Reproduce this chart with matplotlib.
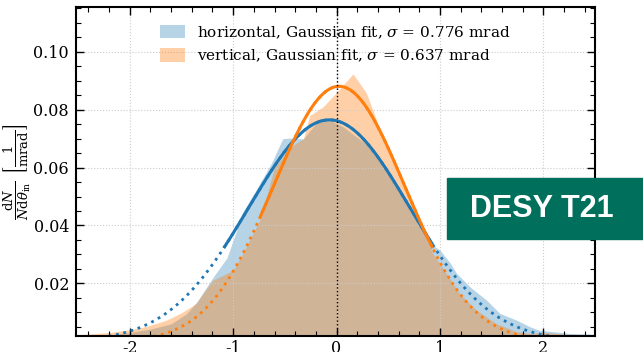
import numpy as np
import matplotlib
matplotlib.use("Agg")
import matplotlib.pyplot as plt
from matplotlib.patches import Rectangle
from matplotlib.ticker import MultipleLocator

plt.rcParams['font.family'] = ['DejaVu Serif']
plt.rcParams['mathtext.fontset'] = 'dejavuserif'
plt.rcParams['axes.unicode_minus'] = False

# horizontal distribution (blue)
x_h = [-2.52, -2.2, -2.0, -1.8, -1.6, -1.45, -1.35, -1.19, -1.06, -0.9, -0.75, -0.63,
       -0.52, -0.45, -0.32, -0.16, -0.035, 0.06, 0.19, 0.32, 0.45, 0.6, 0.75, 0.93,
       1.0, 1.1, 1.16, 1.29, 1.45, 1.58, 1.74, 1.87, 1.96, 2.09, 2.25, 2.5]
y_h = [0.0018, 0.0022, 0.003, 0.0042, 0.006, 0.0095, 0.0136, 0.0223, 0.0288, 0.045,
       0.054, 0.0615, 0.0700, 0.0702, 0.0699, 0.077, 0.0759, 0.0742, 0.0707, 0.0673,
       0.061, 0.052, 0.043, 0.0332, 0.0315, 0.027, 0.0235, 0.0188, 0.0142, 0.0096,
       0.0073, 0.005, 0.0038, 0.0033, 0.0027, 0.0024]

# vertical distribution (orange)
x_v = [-2.52, -2.39, -2.2, -2.03, -1.85, -1.65, -1.5, -1.36, -1.2, -1.0, -0.91, -0.74,
       -0.6, -0.45, -0.32, -0.26, -0.13, 0.0, 0.16, 0.29, 0.4, 0.55, 0.7, 0.8, 0.87,
       0.93, 1.06, 1.19, 1.35, 1.54, 1.74, 1.87, 2.03, 2.2, 2.5]
y_v = [0.0022, 0.0025, 0.003, 0.0038, 0.005, 0.0072, 0.0098, 0.013, 0.021, 0.0245,
       0.030, 0.042, 0.060, 0.067, 0.070, 0.078, 0.081, 0.086, 0.0924, 0.0857, 0.075,
       0.063, 0.050, 0.042, 0.035, 0.0304, 0.0235, 0.0165, 0.0108, 0.0062, 0.0033,
       0.0027, 0.003, 0.0024, 0.0022]

# Gaussian fit parameters: amplitude, mean, sigma, fit range
fit_h = dict(amp=0.0765, mu=-0.07, sigma=0.776, lo=-1.09, hi=0.93)
fit_v = dict(amp=0.0881, mu=0.025, sigma=0.637, lo=-0.74, hi=0.93)

labels = ["horizontal, Gaussian fit, $\\sigma$ = 0.776 mrad",
          "vertical, Gaussian fit, $\\sigma$ = 0.637 mrad"]

blue = '#1f77b4'
orange = '#ff7f0e'

fig = plt.figure(figsize=(6.43, 3.52), dpi=100)
ax = fig.add_axes([76/643, (352-335.7)/352, 519/643, (335.7-7.3)/352])

ax.fill_between(x_h, y_h, 0, color=blue, alpha=0.32, lw=0, label=labels[0])
ax.fill_between(x_v, y_v, 0, color=orange, alpha=0.36, lw=0, label=labels[1])

def gauss(x, p):
    return p['amp'] * np.exp(-0.5 * ((x - p['mu']) / p['sigma']) ** 2)

for p, c in [(fit_h, blue), (fit_v, orange)]:
    xf = np.linspace(-3, 3, 600)
    ax.plot(xf, gauss(xf, p), color=c, lw=2, ls=(0, (1, 1.7)))
    xs = np.linspace(p['lo'], p['hi'], 300)
    ax.plot(xs, gauss(xs, p), color=c, lw=2.2, solid_capstyle='butt')

ax.axvline(0, color='black', lw=1, ls=':')

ax.set_xlim(-2.52, 2.5)
ax.set_ylim(0.0019, 0.1154)
ax.xaxis.set_major_locator(MultipleLocator(1))
ax.xaxis.set_minor_locator(MultipleLocator(0.2))
ax.yaxis.set_minor_locator(MultipleLocator(0.005))
ax.set_yticks([0.02, 0.04, 0.06, 0.08, 0.10])
ax.set_yticklabels(['0.02', '0.04', '0.06', '0.08', '0.10'])
ax.tick_params(which='both', direction='in', top=True, right=True, labelsize=11.5)
ax.tick_params(which='major', length=6, width=1)
ax.tick_params(which='minor', length=3.5, width=0.8)
ax.tick_params(axis='x', pad=3)
ax.tick_params(axis='y', pad=5)
ax.grid(True, which='major', ls=':', color='#cccccc', lw=0.8)
for s in ax.spines.values():
    s.set_linewidth(1.5)

ax.set_ylabel(r'$\frac{\mathrm{d}N}{N\mathrm{d}\theta_\mathrm{in}}\ \left[\frac{1}{\mathrm{mrad}}\right]$',
              fontsize=13.5, labelpad=0)

ax.legend(loc='upper center', frameon=False, fontsize=11, handlelength=1.6,
          handleheight=1.0, bbox_to_anchor=(0.5, 1.0), borderaxespad=0.7,
          labelspacing=0.45)

fig.patches.append(Rectangle((447/643, (352-239)/352), 196/643, 61/352,
                             transform=fig.transFigure, color='#00705d', zorder=10))
fig.text(542/643, (352-209)/352, 'DESY T21', color='white', fontsize=22,
         fontweight='bold', family='Liberation Sans', ha='center', va='center', zorder=11)

fig.savefig('out.png', dpi=100)
